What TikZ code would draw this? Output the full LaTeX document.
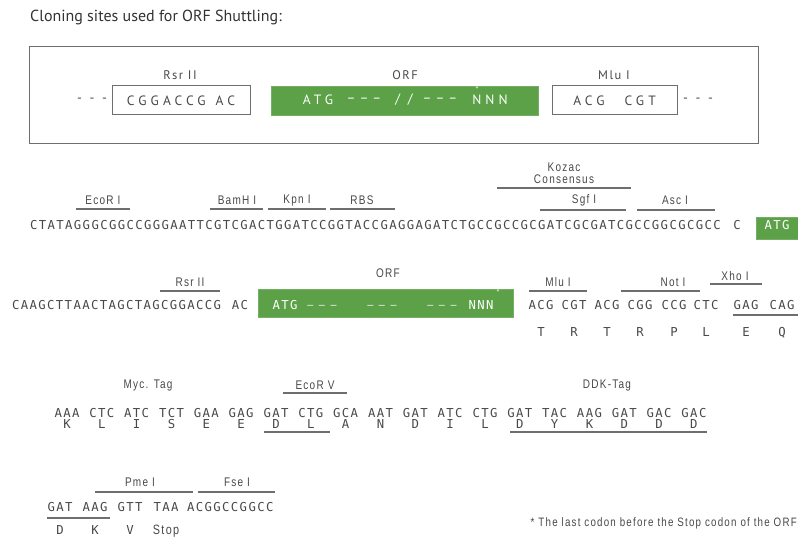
\documentclass[tikz,border=0pt]{standalone}
\usepackage{fontspec}
\setmainfont{PT Sans}
\newfontfamily\seqfont[LetterSpace=11]{DejaVu Sans Mono}
\newfontfamily\lblfont[FakeStretch=0.8,LetterSpace=10]{Liberation Sans}
\newfontfamily\boxfont[LetterSpace=30]{PT Sans}
\newfontfamily\capfont[LetterSpace=12]{PT Sans}
\usetikzlibrary{positioning}

\definecolor{orfgreen}{RGB}{92,161,72}
\definecolor{ink}{RGB}{72,72,72}
\definecolor{linegray}{RGB}{110,110,110}

\newcommand{\seqtxt}{\seqfont\fontsize{12.3}{14}\selectfont}
\newcommand{\lbltxt}{\lblfont\fontsize{12.5}{13}\selectfont}
\newcommand{\boxtxt}{\boxfont\fontsize{13.5}{15}\selectfont}
\newcommand{\captxt}{\capfont\fontsize{12.5}{14}\selectfont}
\newcommand{\gapdash}{\raisebox{1.5pt}{\seqfont\fontsize{10}{12}\selectfont –\hspace{5.5pt}–\hspace{5.5pt}–}}
\newcommand{\boxdash}{–\hspace{4pt}–\hspace{4pt}–}

\begin{document}
\begin{tikzpicture}[x=1pt, y=-1pt]
	\tikzstyle{every node}=[inner sep=0pt, text=ink]
	\tikzstyle{seq}=[font=\seqtxt, text height=9pt, text depth=0pt]
	\tikzstyle{lbl}=[font=\lbltxt, align=center]
	\tikzstyle{site}=[draw=linegray, line width=1.3pt]
	\tikzstyle{cbox}=[draw=linegray, line width=1pt, minimum height=29pt, font=\boxtxt]
	\tikzstyle{orfbox}=[fill=orfgreen, draw=orfgreen!85!white]

	\useasboundingbox (0,0) rectangle (798,537);

	\node[anchor=west, text=black!80, font=\fontsize{16}{18}\selectfont] (title) at (30,18) {Cloning sites used for ORF Shuttling:};

	% shuttling cassette
	\node[draw=linegray, line width=1pt, minimum width=729pt, minimum height=97pt] (frame) at (393.5,95.5) {};
	\node[cbox, minimum width=138pt] (rsr) at (181,100.5) {CGGACCG\hspace{10pt}AC};
	\node[orfbox, minimum width=267pt, minimum height=29pt] (orf) at (404.5,100.5) {};
	\node[cbox, minimum width=125pt] (mlu) at (614.5,100.5) {ACG\hspace{20pt}CGT};
	\node[font=\boxtxt] (dl) at (92,100) {- - -};
	\node[font=\boxtxt] (dr) at (698,100) {- - -};
	\node[font=\captxt] (rsrlbl) at (180,75) {Rsr II};
	\node[font=\captxt] (orflbl) at (405,75) {ORF};
	\node[font=\captxt] (mlulbl) at (614,75) {Mlu I};
	\node[font=\boxtxt, text=white] (oatg) at (318,100) {ATG};
	\node[font=\boxtxt, text=white] (od1) at (364,100) {\boxdash};
	\node[font=\boxtxt, text=white] (osl) at (404,100) {/ /};
	\node[font=\boxtxt, text=white] (od2) at (440,100) {\boxdash};
	\node[font=\boxtxt, text=white] (onnn) at (490,100) {NNN};
	\node[font=\fontsize{8}{8}\selectfont, text=white] (oast) at (477,90) {*};

	% multiple cloning site
	\node[seq, anchor=west] (mcs) at (30,225) {CTATAGGGCGGCCGGGAATTCGTCGACTGGATCCGGTACCGAGGAGATCTGCCGCCGCGATCGCGATCGCCGGCGCGCC};
	\node[seq] (c1) at (737,225) {C};
	\node[orfbox, minimum width=44pt, minimum height=22pt] (atgbox) at (778,228) {};
	\node[seq, text=white] (atg) at (777,225) {ATG};

	\node[lbl] (ecori) at (103,200) {EcoR I};
	\node[lbl] (bamhi) at (237,200) {BamH I};
	\node[lbl] (kpni)  at (297,200) {Kpn I};
	\node[lbl] (rbs)   at (362,200) {RBS};
	\node[lbl] (kozac) at (564,173) {Kozac\\[-1pt]Consensus};
	\node[lbl] (sgfi)  at (584,200) {Sgf I};
	\node[lbl] (asci)  at (675,200) {Asc I};
	\draw[site] (76,209) -- (130,209);
	\draw[site] (210,209) -- (263,209);
	\draw[site] (268,209) -- (326,209);
	\draw[site] (330,209) -- (395,209);
	\draw[site] (497,188) -- (631,188);
	\draw[site] (540,210) -- (626,210);
	\draw[site] (637,210) -- (715,210);

	% ORF in frame
	\node[seq, anchor=west] (up) at (12,305) {CAAGCTTAACTAGCTAGCGGACCG};
	\node[seq] (ac) at (240,305) {AC};
	\node[orfbox, minimum width=255pt, minimum height=28pt] (orf2) at (385.5,303) {};
	\node[seq, text=white] (atg2) at (285,305) {ATG};
	\node[seq, text=white] (d1) at (322,305) {\gapdash};
	\node[seq, text=white] (d2) at (382,305) {\gapdash};
	\node[seq, text=white] (d3) at (442,305) {\gapdash};
	\node[seq, text=white] (nnn) at (481,305) {NNN};
	\node[font=\fontsize{8}{8}\selectfont, text=white] (ast2) at (498,293) {*};
	\node[lbl] (rsrii) at (190,282) {Rsr II};
	\node[lbl] (orf2lbl) at (388,273) {ORF};
	\node[lbl] (mlui) at (558,282) {Mlu I};
	\node[lbl] (noti) at (673,282) {Not I};
	\node[lbl] (xhoi) at (735,276) {Xho I};
	\draw[site] (160,291) -- (220,291);
	\draw[site] (529,291) -- (587,291);
	\draw[site] (621,291) -- (700,291);
	\draw[site] (710,284) -- (762,284);
	\foreach \c/\a/\x [count=\i] in {ACG/T/541, CGT/R/574, ACG/T/607, CGG/R/640, CCG/P/674, CTC/L/706, GAG/E/746, CAG/Q/782} {
		\node[seq] (c3\i) at (\x,305) {\c};
		\node[seq] (a3\i) at (\x,332) {\a};
	}
	\draw[site] (733,315) -- (798,315);

	% tags
	\node[lbl] (myc) at (148,385) {Myc. Tag};
	\node[lbl] (ecorv) at (315,385) {EcoR V};
	\node[lbl] (ddk) at (607,385) {DDK-Tag};
	\draw[site] (283,393) -- (347,393);
	\foreach \c/\a [count=\i from 0] in {AAA/K, CTC/L, ATC/I, TCT/S, GAA/E, GAG/E, GAT/D, CTG/L, GCA/A, AAT/N, GAT/D, ATC/I, CTG/L, GAT/D, TAC/Y, AAG/K, GAT/D, GAC/D, GAC/D} {
		\node[seq] (c4\i) at (67+34.83*\i,413) {\c};
		\node[seq] (a4\i) at (67+34.83*\i,424) {\a};
	}
	\draw[site] (264,432) -- (330,432);
	\draw[site] (510,432) -- (707,432);

	% stop
	\node[lbl] (pmei) at (140,482) {Pme I};
	\node[lbl] (fsei) at (237,482) {Fse I};
	\draw[site] (95,492) -- (193,492);
	\draw[site] (198,492) -- (275,492);
	\foreach \c/\a/\x [count=\i] in {GAT/D/60, AAG/K/95, GTT/V/130, TAA/{\lblfont\fontsize{13.5}{14}\selectfont Stop}/166} {
		\node[seq] (c5\i) at (\x,507) {\c};
		\node[seq] (a5\i) at (\x,530) {\a};
	}
	\node[seq, anchor=west] (down) at (187,507) {ACGGCCGGCC};
	\draw[site] (47,518) -- (110,518);

	\node[lbl, anchor=east, font=\lblfont\fontsize{12.2}{14}\selectfont] (note) at (797,523) {* The last codon before the Stop codon of the ORF};
\end{tikzpicture}
\end{document}
